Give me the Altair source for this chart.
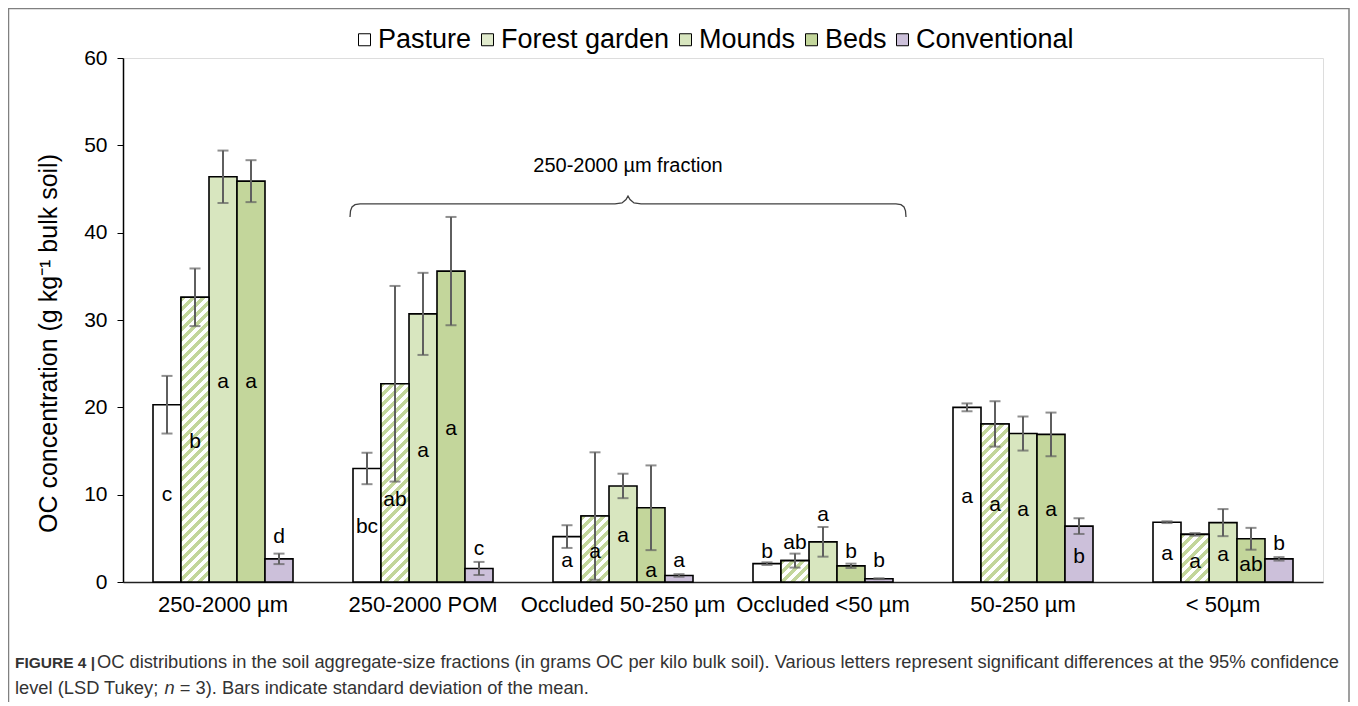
import altair as alt
import pandas as pd

# ---------------- data ----------------
categories = ["250-2000 µm", "250-2000 POM", "Occluded 50-250 µm",
              "Occluded <50 µm", "50-250 µm", "< 50µm"]
series = ["Pasture", "Forest garden", "Mounds", "Beds", "Conventional"]

pasture = [20.3, 13.0, 5.2, 2.1, 20.0, 6.85]
forest = [32.6, 22.7, 7.55, 2.45, 18.1, 5.45]
mounds = [46.4, 30.7, 11.0, 4.6, 17.0, 6.8]
beds = [45.9, 35.6, 8.5, 1.85, 16.9, 4.95]
conventional = [2.65, 1.55, 0.75, 0.38, 6.4, 2.65]

pasture_sd = [3.3, 1.8, 1.3, 0.15, 0.45, 0.1]
forest_sd = [3.3, 11.2, 7.3, 0.8, 2.6, 0.15]
mounds_sd = [3.0, 4.7, 1.4, 1.7, 1.95, 1.55]
beds_sd = [2.4, 6.2, 4.85, 0.25, 2.5, 1.25]
conventional_sd = [0.6, 0.75, 0.15, 0.05, 0.9, 0.2]

pasture_sig = ["c", "bc", "a", "b", "a", "a"]
forest_sig = ["b", "ab", "a", "ab", "a", "a"]
mounds_sig = ["a", "a", "a", "a", "a", "a"]
beds_sig = ["a", "a", "a", "b", "a", "ab"]
conventional_sig = ["d", "c", "a", "b", "b", "b"]

# where each significance letter sits (data units)
pasture_lab = [9.96, 6.3, 2.44, 3.47, 9.7, 3.21]
forest_lab = [16.0, 9.4, 3.47, 4.47, 8.82, 2.32]
mounds_lab = [22.9, 15.0, 5.27, 7.67, 8.24, 3.09]
beds_lab = [22.9, 17.5, 1.26, 3.47, 8.24, 1.95]
conventional_lab = [5.15, 3.78, 2.4, 2.4, 2.9, 4.32]

bracket_label = "250-2000 µm fraction"
# brace path: x in category units (0..6), y in data units
brace_x = [1.135, 1.1375, 1.145, 1.16, 1.185, 2.46, 2.495, 2.515, 2.525,
           2.535, 2.555, 2.59, 3.865, 3.89, 3.905, 3.9125, 3.915]
brace_y = [41.8, 42.5, 42.95, 43.2, 43.3, 43.3, 43.4, 43.8, 44.2,
           43.8, 43.4, 43.3, 43.3, 43.2, 42.95, 42.5, 41.8]

y_title = "OC concentration (g kg\u207b\u00b9 bulk soil)"
caption_bold = "FIGURE 4 |"
caption_1 = ("OC distributions in the soil aggregate-size fractions (in grams OC per kilo bulk soil). "
             "Various letters represent significant differences at the 95% confidence")
caption_2a = "level (LSD Tukey; "
caption_2n = "n"
caption_2b = "= 3). Bars indicate standard deviation of the mean."

# ---------------- table ----------------
means = [pasture, forest, mounds, beds, conventional]
sds = [pasture_sd, forest_sd, mounds_sd, beds_sd, conventional_sd]
sigs = [pasture_sig, forest_sig, mounds_sig, beds_sig, conventional_sig]
labs = [pasture_lab, forest_lab, mounds_lab, beds_lab, conventional_lab]
rows = []
for s, m_, sd_, sg_, lb_ in zip(series, means, sds, sigs, labs):
    for c, m, sd, sg, lb in zip(categories, m_, sd_, sg_, lb_):
        rows.append(dict(cat=c, series=s, mean=m, lo=m - sd, hi=m + sd, sig=sg, laby=lb))
df = pd.DataFrame(rows)
brace_df = pd.DataFrame({"bx": brace_x, "by": brace_y, "o": list(range(len(brace_x)))})

FONT = "Liberation Sans"
W, H = 1200, 524
colors = ["#ffffff", "#e1ebcd", "#d8e6bf", "#c3d69b", "#ccc0da"]
GREEN = "#c3d69b"
CAP = "#333333"

xs = alt.Scale(domain=categories, paddingInner=0.3, paddingOuter=0.15)
xo = alt.XOffset("series:N", scale=alt.Scale(domain=series))
ys = alt.Scale(domain=[0, 60])


def X(axis=None):
    if axis is None:
        return alt.X("cat:N", scale=xs, sort=categories, axis=None)
    return alt.X("cat:N", scale=xs, sort=categories, axis=axis)


base = alt.Chart(df)

bars = base.mark_bar(stroke="black", strokeWidth=1.6).encode(
    x=X(alt.Axis(title=None, labelFontSize=22, labelFont=FONT, labelColor="black",
                 ticks=False, domainColor="#222222", domainWidth=1.5,
                 labelPadding=12, labelAngle=0, labelLimit=0)),
    xOffset=xo,
    y=alt.Y("mean:Q", scale=ys,
            axis=alt.Axis(values=[0, 10, 20, 30, 40, 50, 60], grid=False,
                          tickSize=6, tickColor="black", domainColor="black",
                          domainWidth=1.5, labelFontSize=21, labelFont=FONT,
                          labelColor="black", labelPadding=10,
                          title=y_title, titleFont=FONT, titleFontSize=25,
                          titleFontWeight="normal", titleColor="black",
                          titleAngle=270, titleX=-75, titleY=285,
                          titleAlign="center", titleBaseline="middle")),
    color=alt.Color("series:N", scale=alt.Scale(domain=series, range=colors),
                    legend=alt.Legend(orient="none", legendX=228, legendY=-32,
                                      direction="horizontal", title=None,
                                      labelFontSize=27, labelFont=FONT,
                                      labelColor="black", symbolType="square",
                                      symbolSize=144, symbolStrokeColor="black",
                                      symbolStrokeWidth=1, labelOffset=0,
                                      columnPadding=2, padding=0, labelLimit=0,
                                      symbolOpacity=1)),
)

# striped overlay for Forest garden bars (diagonal stripes via linear gradient)
step = W / (len(categories) - 0.3 + 0.3)
bw = step * 0.7 / len(series)
stripe_layers = []
for c, v in zip(categories, forest):
    h = v * H / 60.0
    w = bw
    denom = w * w + h * h
    tmax = (w + h) * w / denom
    per = 10.0 * w / denom
    stops = []
    k = 0
    while k * per <= tmax + per:
        o0 = k * per
        o1 = o0 + per * 0.5
        o2 = o0 + per
        if o0 > 1:
            break
        stops += [alt.GradientStop(offset=min(o0, 1), color=GREEN),
                  alt.GradientStop(offset=min(o1, 1), color=GREEN),
                  alt.GradientStop(offset=min(o1, 1), color="#ffffff"),
                  alt.GradientStop(offset=min(o2, 1), color="#ffffff")]
        k += 1
    grad = alt.Gradient(gradient="linear", stops=stops, x1=0, y1=0, x2=1, y2=h / w)
    stripe_layers.append(
        base.transform_filter((alt.datum.series == "Forest garden") & (alt.datum.cat == c))
        .mark_bar(fill=grad, stroke="black", strokeWidth=1.6)
        .encode(x=X(), xOffset=xo, y=alt.Y("mean:Q", scale=ys))
    )

err = base.mark_rule(color="#5f5f5f", strokeWidth=2).encode(
    x=X(), xOffset=xo, y=alt.Y("lo:Q", scale=ys), y2="hi:Q")
cap_lo = base.mark_tick(color="#5f5f5f", thickness=2, size=11).encode(
    x=X(), xOffset=xo, y=alt.Y("lo:Q", scale=ys))
cap_hi = base.mark_tick(color="#5f5f5f", thickness=2, size=11).encode(
    x=X(), xOffset=xo, y=alt.Y("hi:Q", scale=ys))

letters = base.mark_text(fontSize=21, font=FONT, color="black", baseline="middle").encode(
    x=X(), xOffset=xo, y=alt.Y("laby:Q", scale=ys), text="sig:N")

brace = alt.Chart(brace_df).mark_line(color="#404040", strokeWidth=1.3).encode(
    x=alt.X("bx:Q", scale=alt.Scale(domain=[0, 6], nice=False, zero=False), axis=None),
    y=alt.Y("by:Q", scale=ys),
    order="o:Q",
)

brace_text = alt.Chart(pd.DataFrame({"t": [bracket_label]})).mark_text(
    fontSize=20, font=FONT, color="black", align="center", baseline="middle"
).encode(x=alt.value(505), y=alt.value(108), text="t:N")

frame = alt.Chart(pd.DataFrame({"a": [0]})).mark_rect(
    filled=False, stroke="#808080", strokeWidth=1.5
).encode(x=alt.value(-114.5), x2=alt.value(1226), y=alt.value(-49.5), y2=alt.value(720))


def cap_text(t, x, y, **kw):
    return alt.Chart(pd.DataFrame({"t": [t]})).mark_text(
        color=CAP, align="left", baseline="middle", **kw
    ).encode(x=alt.value(x), y=alt.value(y), text="t:N")


cap_b = cap_text(caption_bold, -108, 605, fontSize=15.5, font=FONT, fontWeight="bold")
cap_1 = cap_text(caption_1, -26, 605, fontSize=18.3, font=FONT)
cap_2a = cap_text(caption_2a, -108, 631, fontSize=18.3, font=FONT)
cap_2n = cap_text(caption_2n, 41.5, 631, fontSize=18.3, font=FONT, fontStyle="italic")
cap_2b = cap_text(caption_2b, 56.8, 631, fontSize=18.3, font=FONT)

chart = alt.layer(
    bars, *stripe_layers, err, cap_lo, cap_hi, letters, brace, brace_text,
    frame, cap_b, cap_1, cap_2a, cap_2n, cap_2b
).resolve_scale(x="independent").properties(
    width=W, height=H,
    autosize=alt.AutoSizeParams(type="none"),
    padding={"left": 115, "top": 50, "right": 27, "bottom": 120},
).configure_view(stroke=None).configure(font=FONT)

chart.save("out.html", embed_options={"renderer": "svg", "actions": False})
